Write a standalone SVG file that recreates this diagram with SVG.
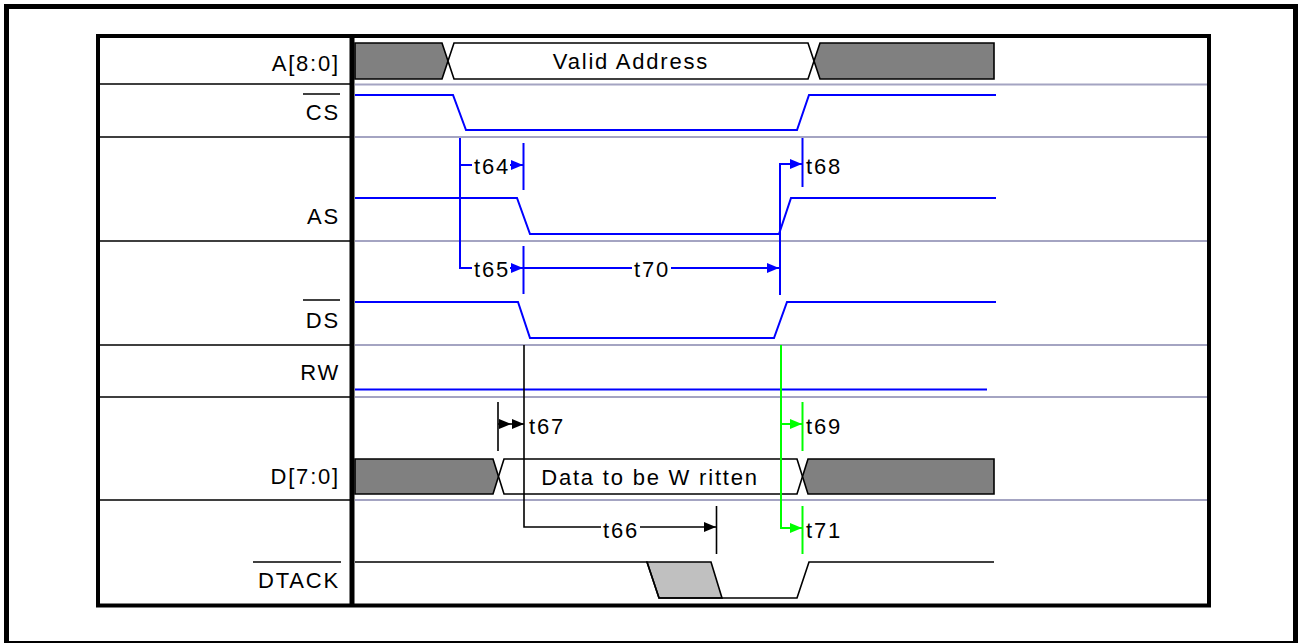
<svg xmlns="http://www.w3.org/2000/svg" width="1298" height="643" viewBox="0 0 1298 643">
<style>
.lbl{font-family:"Liberation Sans",Arial,sans-serif;font-size:22px;letter-spacing:1.8px;fill:#000}
.end{text-anchor:end}
.mid{text-anchor:middle}
.div{stroke:#a4a4c2;stroke-width:2;fill:none}
.ldiv{stroke:#000;stroke-width:1.6;fill:none}
.wb{stroke:#0000ff;stroke-width:2;fill:none}
.wk{stroke:#000;stroke-width:1.6;fill:none}
.bus{stroke:#000;stroke-width:1.6;fill:#fff}
.inv{stroke:#000;stroke-width:1.6;fill:#808080}
.ob{stroke:#000;stroke-width:1.6}
.cb{stroke:#0000ff;stroke-width:2;fill:none}
.ck{stroke:#000;stroke-width:1.6;fill:none}
.cg{stroke:#00ff00;stroke-width:2;fill:none}
</style>
<defs>
<marker id="ab" markerUnits="userSpaceOnUse" markerWidth="13" markerHeight="10" refX="12" refY="5" orient="auto"><path d="M0,0 L12,5 L0,10 z" fill="#0000ff"/></marker>
<marker id="ak" markerUnits="userSpaceOnUse" markerWidth="13" markerHeight="10" refX="12" refY="5" orient="auto"><path d="M0,0 L12,5 L0,10 z" fill="#000"/></marker>
<marker id="ag" markerUnits="userSpaceOnUse" markerWidth="13" markerHeight="10" refX="12" refY="5" orient="auto"><path d="M0,0 L12,5 L0,10 z" fill="#00ff00"/></marker>
</defs>
<rect x="0" y="0" width="1298" height="643" fill="#fff"/>
<rect x="6.5" y="6.5" width="1289" height="637" fill="none" stroke="#000" stroke-width="5"/>

<g id="grid">
<path class="div" d="M355,84.5 H1207 M355,137 H1207 M355,241 H1207 M355,345 H1207 M355,397 H1207 M355,500 H1207"/>
<path class="ldiv" d="M98,84 H350 M98,137 H350 M98,241 H350 M98,345 H350 M98,397 H350 M98,500 H350"/>
<rect x="98" y="36" width="1111" height="569.5" fill="none" stroke="#000" stroke-width="4"/>
<line x1="352" y1="36" x2="352" y2="605.5" stroke="#000" stroke-width="5"/>
</g>

<g id="sig-addr">
<text class="lbl end" x="340" y="71">A[8:0]</text>
<path class="inv" d="M355,43 H442 L448,61 L442,79 H355 Z"/>
<path class="bus" d="M454,43 H808 L814,61 L808,79 H454 L448,61 Z"/>
<path class="inv" d="M820,43 H994 V79 H820 L814,61 Z"/>
<text class="lbl mid" x="631" y="69">Valid Address</text>
</g>

<g id="sig-cs">
<text class="lbl end" x="340" y="120">CS</text>
<line class="ob" x1="303" y1="94" x2="340" y2="94"/>
<path class="wb" d="M355,95 H453 L466,130 H797 L809,95 H996"/>
</g>

<g id="sig-as">
<text class="lbl end" x="340" y="224">AS</text>
<path class="wb" d="M355,198 H517 L530,234 H779 L791,198 H996"/>
</g>

<g id="sig-ds">
<text class="lbl end" x="340" y="328">DS</text>
<line class="ob" x1="303" y1="300" x2="340" y2="300"/>
<path class="wb" d="M355,302 H518 L530,338 H774 L787,302 H996"/>
</g>

<g id="sig-rw">
<text class="lbl end" x="340" y="380">RW</text>
<path class="wb" d="M355,389.5 H987"/>
</g>

<g id="sig-data">
<text class="lbl end" x="340" y="484">D[7:0]</text>
<path class="inv" d="M355,459 H493 L498.5,476.5 L493,494 H355 Z"/>
<path class="bus" d="M504,459 H797 L802.5,476.5 L797,494 H504 L498.5,476.5 Z"/>
<path class="inv" d="M808,459 H994 V494 H808 L802.5,476.5 Z"/>
<text class="lbl mid" x="650" y="485">Data to be W ritten</text>
</g>

<g id="sig-dtack">
<text class="lbl end" x="340" y="588">DTACK</text>
<line class="ob" x1="253" y1="562" x2="341" y2="562"/>
<path d="M647,562 H711 L722,598 H659 Z" fill="#c0c0c0" stroke="#000" stroke-width="1.6"/>
<path class="wk" d="M355,562 H647 L659,598 H797 L809,562 H994"/>
</g>

<g id="connectors">
<path class="cb" d="M460,138 V268 H472 M460,165 H472"/>
<path class="cb" d="M510,165 H523" marker-end="url(#ab)"/>
<path class="cb" d="M523.5,143 V190"/>
<path class="cb" d="M510,268 H523" marker-end="url(#ab)"/>
<path class="cb" d="M523.5,246 V294"/>
<path class="cb" d="M524,268 H632"/>
<path class="cb" d="M671,268 H779" marker-end="url(#ab)"/>
<path class="cb" d="M780,295 V164 H802" marker-end="url(#ab)"/>
<path class="cb" d="M802.5,138 V187"/>
<path class="ck" d="M498,402 V451"/>
<path class="ck" d="M498,424 H511 H524" marker-mid="url(#ak)" marker-end="url(#ak)"/>
<path class="ck" d="M524,345 V527 H601"/>
<path class="ck" d="M640,527 H716" marker-end="url(#ak)"/>
<path class="ck" d="M716.5,506 V554"/>
<path class="cg" d="M781,345 V528 H802" marker-end="url(#ag)"/>
<path class="cg" d="M781,424 H802" marker-end="url(#ag)"/>
<path class="cg" d="M802.5,402 V451 M802.5,506 V554"/>
<text class="lbl" x="474" y="174">t64</text>
<text class="lbl" x="474" y="277">t65</text>
<text class="lbl" x="634" y="277">t70</text>
<text class="lbl" x="806" y="174">t68</text>
<text class="lbl" x="529" y="434">t67</text>
<text class="lbl" x="806" y="434">t69</text>
<text class="lbl" x="603" y="538">t66</text>
<text class="lbl" x="806" y="538">t71</text>
</g>
</svg>
